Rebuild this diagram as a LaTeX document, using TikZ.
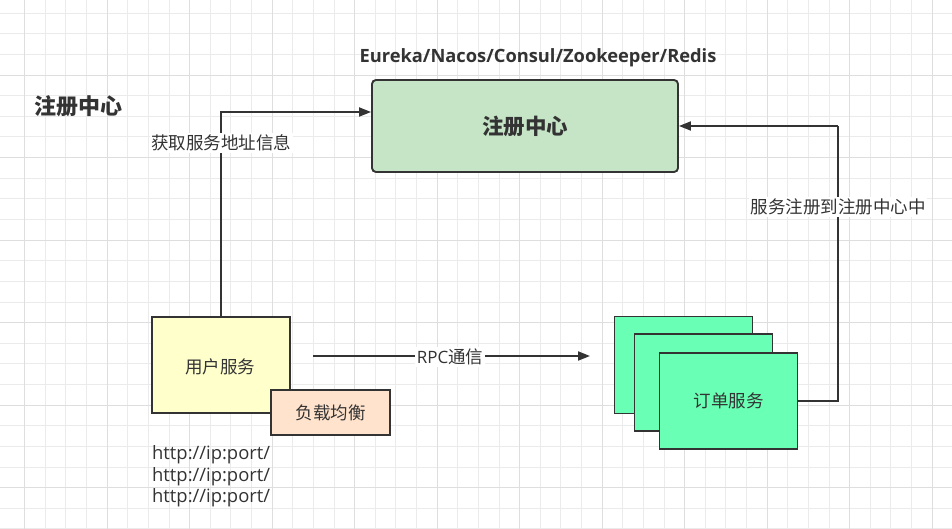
\documentclass[tikz,border=0pt]{standalone}
\usepackage{fontspec}
\setmainfont{Open Sans}
\newfontfamily\cjk{Noto Sans CJK SC}
\usetikzlibrary{arrows.meta}
\definecolor{linec}{HTML}{333333}
\definecolor{txtc}{HTML}{333333}
\definecolor{regfill}{HTML}{C6E5C7}
\definecolor{userfill}{HTML}{FFFFCC}
\definecolor{lbfill}{HTML}{FFE3CC}
\definecolor{ordfill}{HTML}{69FFB4}
\definecolor{gridminor}{HTML}{EBEBEB}
\definecolor{gridmajor}{HTML}{DEDEDE}
\begin{document}
\begin{tikzpicture}[x=1pt,y=-1pt,
  box/.style={draw=linec, line width=1.9pt, text=txtc, font=\cjk\fontsize{17.5}{21}\selectfont, inner sep=0pt},
  conn/.style={draw=linec, line width=1.9pt, -{Triangle[length=12pt,width=9pt]}},
  plainln/.style={draw=linec, line width=1.9pt},
  lbl/.style={fill=white, text=txtc, inner sep=1.5pt, font=\cjk\fontsize{17.5}{21}\selectfont},
  gminor/.style={draw=gridminor, line width=0.9pt},
  gmajor/.style={draw=gridmajor, line width=0.9pt}]
\useasboundingbox (0,0) rectangle (952,529);
\fill[white] (0,0) rectangle (952,529);
% grid
\foreach \k in {0,...,46} {
  \pgfmathsetmacro{\gx}{24.6+20.625*\k}
  \draw[gminor] (\gx,0) -- (\gx,529);
}
\foreach \k in {0,...,25} {
  \pgfmathsetmacro{\gy}{13.2+20.625*\k}
  \draw[gminor] (0,\gy) -- (952,\gy);
}
\foreach \k in {-1,...,10} {
  \pgfmathsetmacro{\gx}{107.1+82.5*\k}
  \draw[gmajor] (\gx,0) -- (\gx,529);
}
\foreach \k in {-1,...,6} {
  \pgfmathsetmacro{\gy}{75+82.5*\k}
  \draw[gmajor] (0,\gy) -- (952,\gy);
}
% titles
\node[text=txtc, font=\cjk\bfseries\fontsize{22}{26}\selectfont, anchor=west, inner sep=0pt] (title) at (34,106) {注册中心};
\node[text=txtc, font=\bfseries\fontsize{18.3}{22}\selectfont, inner sep=0pt] (tech) at (538,58) {Eureka/Nacos/Consul/Zookeeper/Redis};
% boxes
\node[box, fill=regfill, rounded corners=4pt, minimum width=306pt, minimum height=92pt, font=\cjk\bfseries\fontsize{21.5}{25}\selectfont] (reg) at (525,126) {注册中心};
\node[box, fill=userfill, minimum width=138pt, minimum height=96pt] (user) at (221,365) {};
\node[text=txtc, font=\cjk\fontsize{17.5}{21}\selectfont, inner sep=0pt] (usertxt) at (220,367) {用户服务};
\node[box, fill=lbfill, minimum width=119pt, minimum height=45pt] (lb) at (330.5,412.5) {负载均衡};
\node[box, fill=ordfill, minimum width=138pt, minimum height=97pt] (o1) at (683.5,365) {};
\node[box, fill=ordfill, minimum width=138pt, minimum height=97pt] (o2) at (703.5,382.5) {};
\node[box, fill=ordfill, minimum width=138pt, minimum height=96pt] (o3) at (728.5,401) {订单服务};
% urls
\node[text=txtc, font=\fontsize{18.4}{22}\selectfont, anchor=west, inner sep=0pt] (u1) at (152,455) {http://ip:port/};
\node[text=txtc, font=\fontsize{18.4}{22}\selectfont, anchor=west, inner sep=0pt] (u2) at (152,476.5) {http://ip:port/};
\node[text=txtc, font=\fontsize{18.4}{22}\selectfont, anchor=west, inner sep=0pt] (u3) at (152,498) {http://ip:port/};
% connectors
\draw[conn] (user.north) |- ([yshift=14pt]reg.west);
\node[lbl] (l1) at (221,143) {获取服务地址信息};
\coordinate (rc) at (838,126);
\draw[plainln] (o3.east) -| (rc);
\draw[conn] (rc) -- (reg.east);
\node[lbl] (l2) at (838,207) {服务注册到注册中心中};
\coordinate (rs) at (313,356);
\coordinate (re) at (590,356);
\draw[conn] (rs) -- (re);
\node[lbl, font=\fontsize{17}{20}\selectfont] (l3) at (450,357) {RPC{\cjk\fontsize{17.5}{21}\selectfont 通信}};
\end{tikzpicture}
\end{document}
